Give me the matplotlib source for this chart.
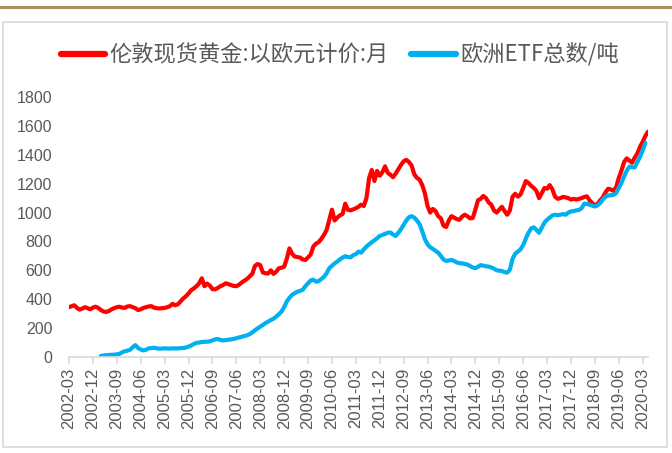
import matplotlib
matplotlib.use("Agg")
import matplotlib.pyplot as plt
from matplotlib.lines import Line2D
from matplotlib.patches import Rectangle
import numpy as np
import pandas as pd

plt.rcParams['font.family'] = ['Noto Sans CJK SC', 'DejaVu Sans']

# Monthly series, 2002-03 .. 2020-05
months = pd.period_range('2002-03', '2020-05', freq='M')

# 伦敦现货黄金 (欧元计价), one row per year
gold_eur = (
    [345, 352, 358, 340, 328, 335, 345, 338, 330, 342]                              # 2002 Mar-Dec
    + [348, 340, 325, 315, 312, 318, 330, 338, 345, 348, 342, 340]                  # 2003
    + [350, 352, 345, 338, 325, 330, 340, 345, 350, 352, 342, 338]                  # 2004
    + [336, 338, 340, 345, 352, 368, 358, 365, 385, 405, 420, 440]                  # 2005
    + [462, 475, 490, 510, 545, 490, 508, 495, 470, 468, 478, 490]                  # 2006
    + [498, 510, 505, 498, 492, 490, 500, 515, 528, 540, 558, 575]                  # 2007
    + [630, 644, 636, 585, 580, 578, 600, 575, 590, 614, 618, 625]                  # 2008
    + [680, 752, 715, 695, 692, 688, 675, 672, 690, 710, 765, 785]                  # 2009
    + [795, 818, 845, 880, 950, 1020, 945, 965, 980, 990, 1062, 1020]               # 2010
    + [1015, 1022, 1030, 1040, 1055, 1045, 1100, 1240, 1295, 1218, 1288, 1255]      # 2011
    + [1280, 1320, 1275, 1262, 1245, 1270, 1300, 1330, 1355, 1365, 1350, 1325]      # 2012
    + [1265, 1240, 1228, 1190, 1133, 1045, 1000, 1025, 1010, 975, 960, 910]         # 2013
    + [900, 945, 975, 965, 955, 950, 972, 985, 975, 960, 962, 1020]                 # 2014
    + [1085, 1095, 1115, 1100, 1070, 1055, 1015, 1000, 1020, 1040, 1010, 985]       # 2015
    + [1015, 1110, 1130, 1110, 1125, 1170, 1218, 1205, 1185, 1170, 1150, 1100]      # 2016
    + [1135, 1170, 1165, 1190, 1160, 1110, 1095, 1100, 1108, 1105, 1100, 1090]      # 2017
    + [1095, 1090, 1095, 1100, 1108, 1112, 1085, 1065, 1050, 1060, 1085, 1105]      # 2018
    + [1140, 1165, 1160, 1150, 1175, 1240, 1290, 1350, 1375, 1360, 1345, 1380]      # 2019
    + [1410, 1455, 1490, 1530, 1560]                                                # 2020 Jan-May
)

# 欧洲ETF总数/吨, starts 2003-03, last value 2020-04
etf_europe = (
    [np.nan] * 12
    + [8, 10, 12, 14, 15, 16, 18, 22, 32, 40]                                       # 2003 Mar-Dec
    + [44, 50, 68, 82, 62, 52, 46, 50, 60, 62, 64, 60]                              # 2004
    + [58, 58, 60, 59, 58, 60, 59, 60, 61, 62, 66, 72]                              # 2005
    + [80, 90, 98, 100, 104, 105, 106, 108, 115, 122, 125, 118]                     # 2006
    + [115, 117, 120, 122, 125, 130, 135, 140, 145, 150, 158, 170]                  # 2007
    + [185, 198, 210, 222, 235, 245, 256, 265, 280, 295, 315, 345]                  # 2008
    + [385, 410, 430, 442, 452, 458, 465, 490, 510, 530, 535, 522]                  # 2009
    + [525, 540, 555, 580, 615, 632, 648, 660, 676, 688, 698, 692]                  # 2010
    + [690, 705, 712, 730, 722, 745, 765, 780, 795, 808, 822, 838]                  # 2011
    + [845, 852, 860, 862, 848, 838, 860, 885, 915, 945, 968, 975]                  # 2012
    + [965, 945, 920, 870, 815, 780, 760, 748, 735, 722, 700, 675]                  # 2013
    + [665, 668, 672, 665, 655, 650, 648, 645, 640, 630, 620, 615]                  # 2014
    + [625, 636, 632, 628, 626, 620, 612, 600, 598, 595, 588, 584]                  # 2015
    + [605, 680, 715, 730, 745, 775, 820, 860, 890, 898, 880, 860]                  # 2016
    + [895, 930, 950, 965, 980, 985, 982, 985, 990, 985, 1000, 1008]                # 2017
    + [1010, 1015, 1018, 1030, 1062, 1060, 1055, 1048, 1042, 1050, 1066, 1090]      # 2018
    + [1110, 1118, 1120, 1122, 1135, 1170, 1205, 1250, 1290, 1318, 1315, 1312]      # 2019
    + [1350, 1385, 1430, 1482, np.nan]                                              # 2020 Jan-May
)

y_ticks = [0, 200, 400, 600, 800, 1000, 1200, 1400, 1600, 1800]
tick_step = 9  # label every 9 months

W, H = 672, 453
fig = plt.figure(figsize=(W / 100, H / 100), dpi=100)

# gold rule across the top and the grey frame of the chart
fig.add_artist(Line2D([0, 1], [1 - 7 / H, 1 - 7 / H], color='#AD8F5E', lw=2.2,
                      transform=fig.transFigure))
fig.add_artist(Rectangle((3 / W, 6 / H), 664 / W, 425 / H, transform=fig.transFigure,
                         fill=False, edgecolor='#D9D9D9', lw=1.2))

ax = fig.add_axes([69 / W, (H - 357) / H, 579 / W, 260 / H])
x = np.arange(len(months))
ax.plot(x, gold_eur, color='#FF0000', lw=3.0, solid_capstyle='round',
        label='伦敦现货黄金:以欧元计价:月')
ax.plot(x, etf_europe, color='#00B0F0', lw=3.0, solid_capstyle='round',
        label='欧洲ETF总数/吨')

ax.set_xlim(0, len(months) - 1)
ax.set_ylim(0, 1800)
ax.set_yticks(y_ticks)
ax.set_yticklabels([str(v) for v in y_ticks], family='Liberation Sans',
                   fontsize=11.5, color='#595959')
tick_pos = x[::tick_step]
ax.set_xticks(tick_pos)
ax.set_xticklabels([months[i].strftime('%Y-%m') for i in tick_pos], rotation=90,
                   family='Liberation Sans', fontsize=12, color='#595959')
ax.tick_params(axis='y', length=0, pad=12)
ax.tick_params(axis='x', length=5, color='#D9D9D9', width=1.2, pad=3)
for side in ['top', 'right', 'left']:
    ax.spines[side].set_visible(False)
ax.spines['bottom'].set_color('#D9D9D9')
ax.spines['bottom'].set_linewidth(1.2)

leg = fig.legend(loc='center', bbox_to_anchor=(340 / W, 1 - 55 / H), ncol=2,
                 frameon=False, prop={'size': 16, 'weight': 'light'},
                 handlelength=2.0, handletextpad=0.2, columnspacing=1.0,
                 labelcolor='#595959')
for h in leg.legend_handles:
    h.set_linewidth(4.5)

fig.savefig('out.png', dpi=100)
